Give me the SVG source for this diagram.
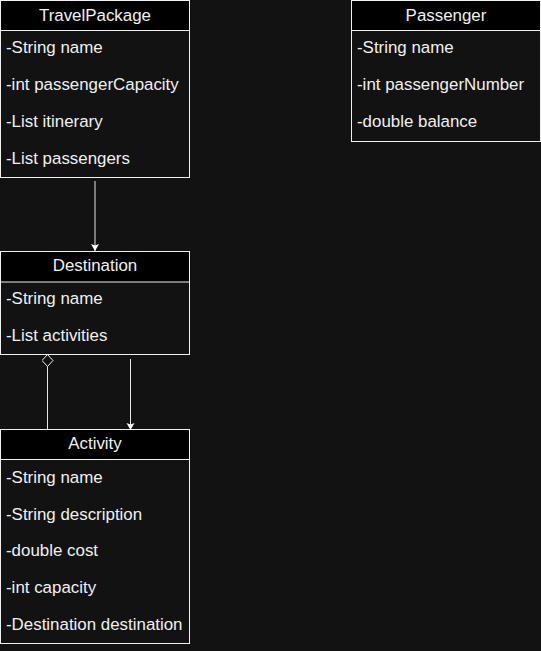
<svg xmlns="http://www.w3.org/2000/svg" width="541" height="651" viewBox="0 0 541 651">
<style>
  .hdr { fill: #000000; stroke: #f0f0f0; stroke-width: 1; }
  .body { fill: #121212; stroke: #f0f0f0; stroke-width: 1; }
  text { font-family: "Liberation Sans", Arial, sans-serif; font-size: 16.9px; fill: #f0f0f0; }
  .title { text-anchor: middle; }
  .conn { stroke: #e6e6e6; stroke-width: 1; fill: none; }
</style>
<defs>
  <marker id="arrow" markerWidth="9" markerHeight="10" refX="7" refY="4.5" orient="auto" markerUnits="userSpaceOnUse">
    <path d="M0,0.5 L7,4.5 L0,8.5 L1.5,4.5 Z" fill="#ffffff"/>
  </marker>
  <marker id="diamond" markerWidth="14" markerHeight="14" refX="13" refY="6" orient="auto" markerUnits="userSpaceOnUse">
    <path d="M1,6 L7,0.5 L13,6 L7,11.5 Z" fill="#121212" stroke="#f0f0f0" stroke-width="1"/>
  </marker>
</defs>
<rect width="541" height="651" fill="#121212"/>

<g id="connectors">
  <line class="conn" x1="95" y1="181" x2="95" y2="251" marker-end="url(#arrow)"/>
  <line class="conn" x1="47.5" y1="430" x2="47.5" y2="354.5" marker-end="url(#diamond)"/>
  <line class="conn" x1="130.5" y1="359" x2="130.5" y2="430" marker-end="url(#arrow)"/>
</g>

<g id="TravelPackage">
  <rect class="body" x="0.5" y="0.5" width="189" height="177"/>
  <rect class="hdr" x="0.5" y="0.5" width="189" height="30"/>
  <text class="title" x="95" y="20.5">TravelPackage</text>
  <text x="6" y="53">-String name</text>
  <text x="6" y="90">-int passengerCapacity</text>
  <text x="6" y="127">-List itinerary</text>
  <text x="6" y="164">-List passengers</text>
</g>

<g id="Passenger">
  <rect class="body" x="351.5" y="0.5" width="189" height="141"/>
  <rect class="hdr" x="351.5" y="0.5" width="189" height="30"/>
  <text class="title" x="446" y="20.5">Passenger</text>
  <text x="357" y="53">-String name</text>
  <text x="357" y="90">-int passengerNumber</text>
  <text x="357" y="127">-double balance</text>
</g>

<g id="Destination">
  <rect class="body" x="0.5" y="251.5" width="189" height="103"/>
  <rect class="hdr" x="0.5" y="251.5" width="189" height="30.5"/>
  <text class="title" x="95" y="271">Destination</text>
  <text x="6" y="304">-String name</text>
  <text x="6" y="341">-List activities</text>
</g>

<g id="Activity">
  <rect class="body" x="0.5" y="429.5" width="189" height="214"/>
  <rect class="hdr" x="0.5" y="429.5" width="189" height="30"/>
  <text class="title" x="95" y="449">Activity</text>
  <text x="6" y="483">-String name</text>
  <text x="6" y="519.5">-String description</text>
  <text x="6" y="556">-double cost</text>
  <text x="6" y="592.5">-int capacity</text>
  <text x="6" y="629.5">-Destination destination</text>
</g>
</svg>
